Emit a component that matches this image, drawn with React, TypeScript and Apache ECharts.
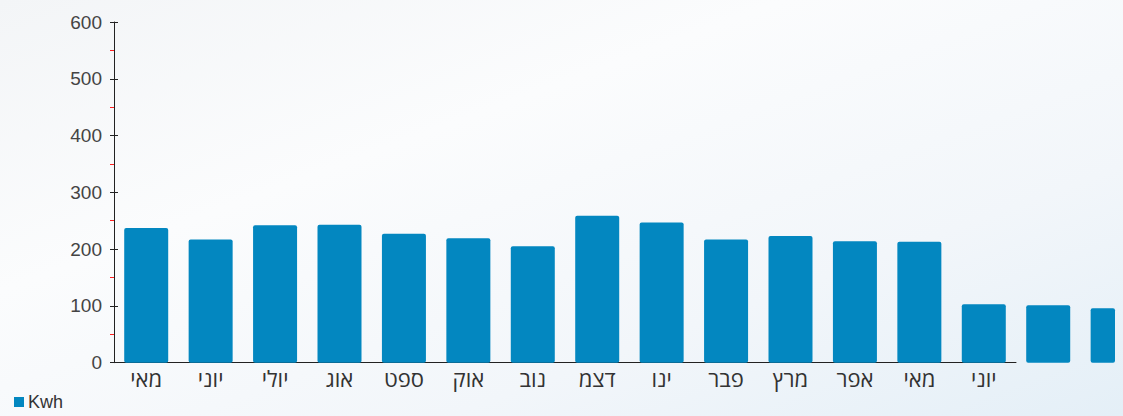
import React, { useEffect, useRef } from "react";
import * as echarts from "echarts";

const monthLabels = ["מאי", "יוני", "יולי", "אוג", "ספט", "אוק", "נוב", "דצמ", "ינו", "פבר", "מרץ", "אפר", "מאי", "יוני"];
const kwhValues = [237, 217, 242, 243, 227, 219, 205, 259, 247, 217, 223, 214, 213, 103, 101, 96];
const yTicks = { min: 0, max: 600, interval: 100 };
const seriesName = "Kwh";

export default function App() {
  const ref = useRef<HTMLDivElement>(null);
  useEffect(() => {
    if (!ref.current) return;
    const chart = echarts.init(ref.current, undefined, { renderer: "svg" });
    const gridLeft = 114;
    const axisW = 902;
    const catW = axisW / monthLabels.length;
    const clipRight = 1115;
    // bar clip area on a value base axis is widened by one band on each side
    const grid2Right = clipRight - catW;
    const font = "'Liberation Sans', Arial, sans-serif";
    const barData = kwhValues.map((v, i) => [i, v]);
    chart.setOption({
      animation: false,
      backgroundColor: {
        type: "linear", x: 0, y: 0, x2: 1, y2: 1,
        colorStops: [
          { offset: 0, color: "#f3f5f7" },
          { offset: 0.35, color: "#fbfcfd" },
          { offset: 0.7, color: "#f2f6fa" },
          { offset: 1, color: "#e4eff7" },
        ],
      },
      textStyle: { fontFamily: font },
      legend: {
        left: 14, top: 393, padding: 0, icon: "rect", itemWidth: 10, itemHeight: 10, itemGap: 4,
        textStyle: { fontSize: 18, lineHeight: 18, color: "#333", fontFamily: font, padding: [0, 0, 0, -1] },
        data: [seriesName],
      },
      grid: [
        { left: gridLeft, top: 22, width: axisW, height: 340.7 },
        { left: gridLeft, top: 22, width: grid2Right - gridLeft, height: 340.7 },
      ],
      xAxis: [
        {
          type: "category", gridIndex: 0, data: monthLabels,
          axisLine: { lineStyle: { color: "#222", width: 1 } },
          axisTick: { show: false },
          axisLabel: { fontSize: 22, color: "#333", margin: 4, fontFamily: "'Open Sans', 'DejaVu Sans', sans-serif" },
        },
        {
          type: "value", gridIndex: 1, show: false,
          min: -0.5, max: -0.5 + (grid2Right - gridLeft) / catW,
          splitLine: { show: false },
        },
      ],
      yAxis: [
        {
          type: "value", gridIndex: 0, min: yTicks.min, max: yTicks.max, interval: yTicks.interval,
          axisLine: { show: true, lineStyle: { color: "#222", width: 1 } },
          axisTick: { show: true, length: 4, lineStyle: { color: "#222" } },
          minorTick: { show: true, splitNumber: 2, length: 4, lineStyle: { color: "#ff2020" } },
          splitLine: { show: false },
          axisLabel: { fontSize: 19, color: "#444", margin: 12, fontFamily: font },
        },
        {
          type: "value", gridIndex: 0, position: "left", min: yTicks.min, max: yTicks.max, interval: yTicks.interval,
          axisLine: { show: false },
          axisTick: { show: true, inside: true, length: 4, lineStyle: { color: "#222" } },
          splitLine: { show: false },
          axisLabel: { show: false },
        },
        {
          type: "value", gridIndex: 1, min: yTicks.min, max: yTicks.max, show: false,
          splitLine: { show: false },
        },
      ],
      series: [
        {
          name: seriesName, type: "bar", xAxisIndex: 1, yAxisIndex: 2,
          data: barData, barWidth: 44, clip: true,
          itemStyle: { color: "#0387c0", borderRadius: 2 },
        },
      ],
    });
    return () => chart.dispose();
  }, []);
  return <div ref={ref} style={{ position: "fixed", left: 0, top: 0, width: 1123, height: 416 }} />;
}
